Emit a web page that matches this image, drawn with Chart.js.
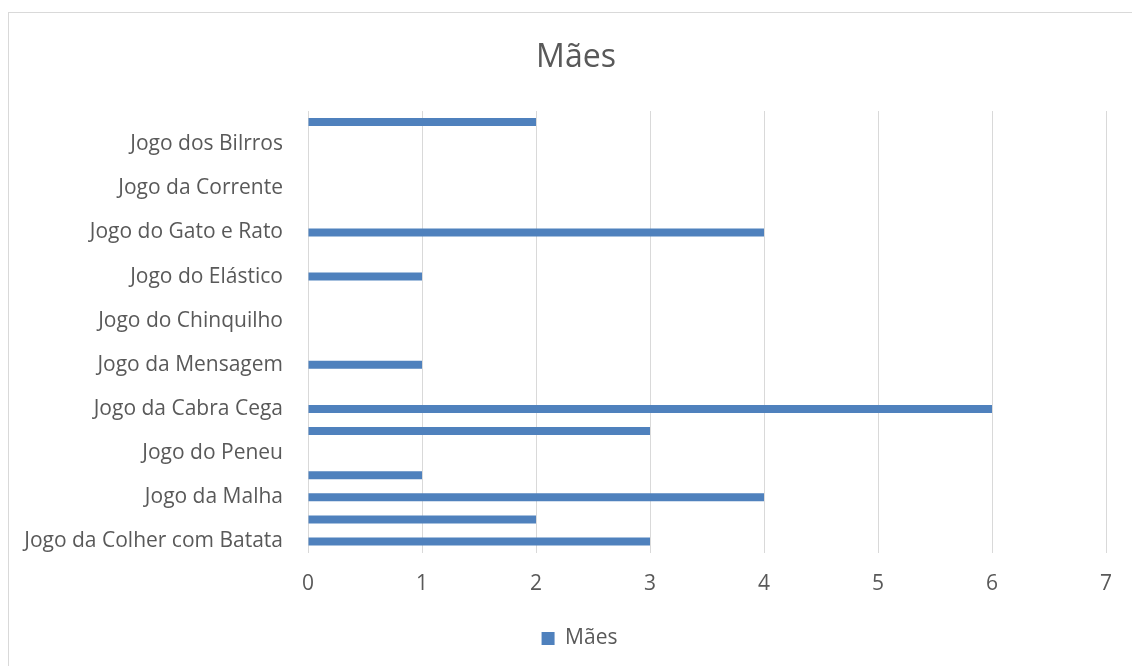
<!DOCTYPE html>
<html>
<head>
<meta charset="utf-8">
<script src="https://cdn.jsdelivr.net/npm/chart.js@4/dist/chart.umd.min.js"></script>
<style>
html,body{margin:0;padding:0;background:#fff;}
</style>
</head>
<body>
<canvas id="c" width="1132" height="666"></canvas>
<script>
// Categories listed top to bottom (rows without a visible label are blank)
const categories = [
  "", "Jogo dos Bilrros", "", "Jogo da Corrente", "", "Jogo do Gato e Rato", "",
  "Jogo do Elástico", "", "Jogo do Chinquilho", "", "Jogo da Mensagem", "",
  "Jogo da Cabra Cega", "", "Jogo do Peneu", "", "Jogo da Malha", "",
  "Jogo da Colher com Batata"
];
const maesValues = [2, 0, 0, 0, 0, 4, 0, 1, 0, 0, 0, 1, 0, 6, 3, 0, 1, 4, 2, 3];
const xTicks = [0, 1, 2, 3, 4, 5, 6, 7];
const seriesName = "Mães";
const titleText = "Mães";

const FONT = "'Open Sans'";
const TXT = "#595959";
const GRID = "#d9d9d9";

const borderPlugin = {
  id: 'border',
  afterLayout(chart) {
    // Excel centres title and legend on the outer chart frame rather than the padded area
    if (chart.titleBlock) { chart.titleBlock.left += 46; }
    if (chart.legend) { chart.legend.left += 53; }
  },
  beforeDraw(chart) {
    const ctx = chart.ctx;
    ctx.save();
    ctx.fillStyle = '#fff';
    ctx.fillRect(0, 0, chart.width, chart.height);
    ctx.strokeStyle = GRID;
    ctx.lineWidth = 1;
    ctx.strokeRect(8.5, 12.5, 1140, 680);
    ctx.restore();
  }
};

new Chart(document.getElementById('c'), {
  type: 'bar',
  data: {
    labels: categories,
    datasets: [{
      label: seriesName,
      data: maesValues,
      backgroundColor: '#4F81BD',
      barThickness: 8,
      inflateAmount: 0
    }]
  },
  options: {
    indexAxis: 'y',
    responsive: false,
    animation: false,
    layout: { padding: { left: 0, right: 26, top: 0, bottom: 7 } },
    plugins: {
      title: {
        display: true,
        text: titleText,
        color: TXT,
        font: { family: FONT, size: 32, weight: 'normal' },
        padding: { top: 38.8, bottom: 33.8 }
      },
      legend: {
        position: 'bottom',
        labels: {
          color: TXT,
          font: { family: FONT, size: 21 },
          boxWidth: 13, boxHeight: 13,
          padding: 10
        }
      },
      tooltip: { enabled: false }
    },
    scales: {
      x: {
        min: 0, max: 7,
        afterBuildTicks(scale) { scale.ticks = xTicks.map(v => ({ value: v })); },
        grid: { color: GRID, drawTicks: false },
        border: { display: false },
        ticks: { color: TXT, font: { family: FONT, size: 21 }, padding: 19 },
        afterFit(scale) { scale.height = 65.5; }
      },
      y: {
        grid: { display: false, drawTicks: false },
        border: { display: false },
        ticks: { color: TXT, font: { family: FONT, size: 21 }, padding: 25, autoSkip: false },
        afterFit(scale) { scale.width = 308; }
      }
    }
  },
  plugins: [borderPlugin]
});
</script>
</body>
</html>
